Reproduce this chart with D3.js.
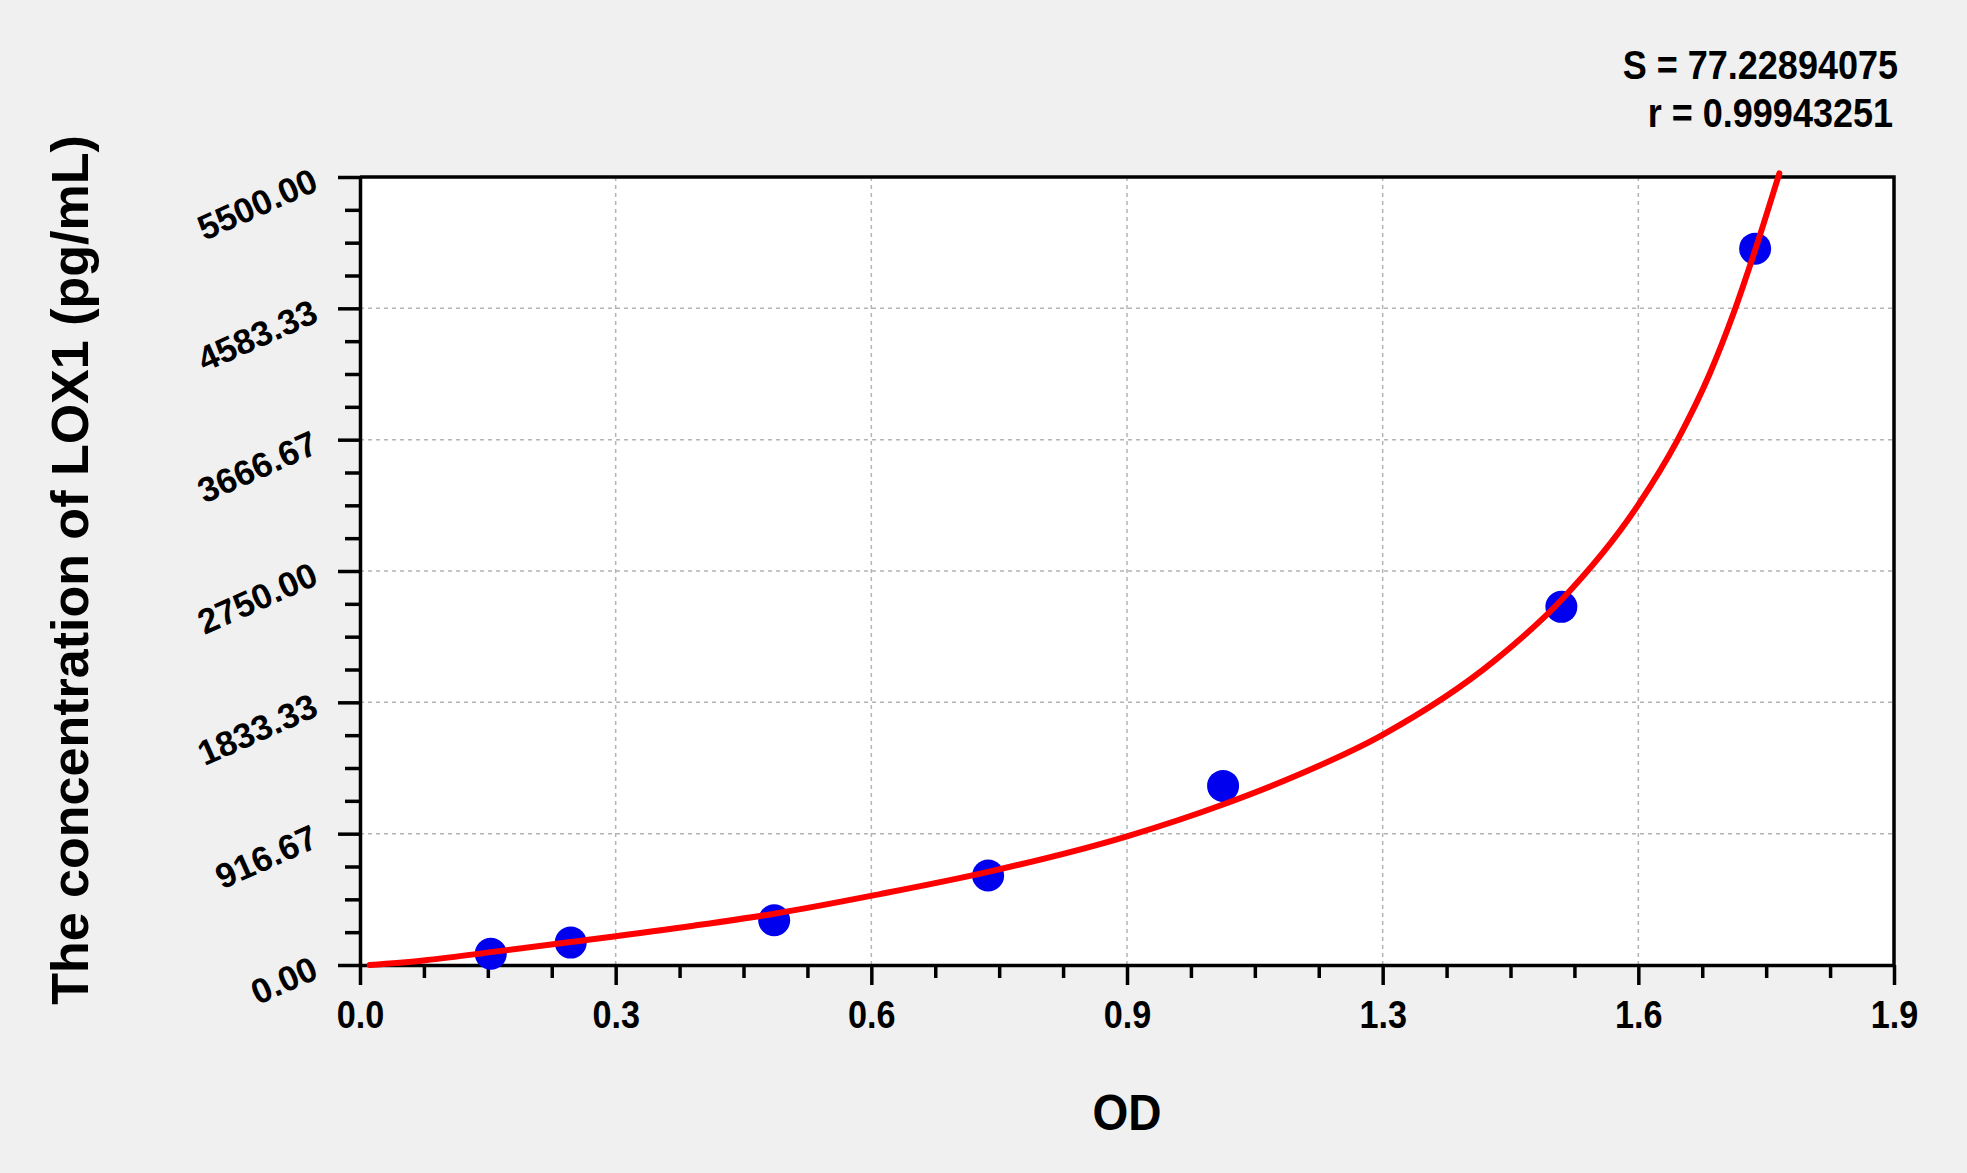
<!DOCTYPE html>
<html>
<head>
<meta charset="utf-8">
<script src="https://cdn.jsdelivr.net/npm/d3@7"></script>
<style>
  body { margin: 0; background: #f0f0f0; }
  svg { display: block; }
</style>
</head>
<body>
<svg id="chart"></svg>
<script>
// standards: OD vs concentration
const odValues = [0.162, 0.261, 0.513, 0.778, 1.069, 1.488, 1.728];
const concValues = [78.13, 156.25, 312.5, 625, 1250, 2500, 5000];

// fitted curve
const curveOd = [0.012, 0.076, 0.162, 0.261, 0.413, 0.513, 0.644, 0.778, 0.95,
  1.069, 1.16, 1.266, 1.406, 1.488, 1.583, 1.631, 1.672, 1.701, 1.728, 1.758];
const curveConc = [0, 30, 90, 161, 274, 358, 495, 650, 898,
  1120, 1322, 1605, 2128, 2548, 3210, 3655, 4130, 4545, 4990, 5526];

const xTickLabels = ['0.0', '0.3', '0.6', '0.9', '1.3', '1.6', '1.9'];
const yTickLabels = ['0.00', '916.67', '1833.33', '2750.00', '3666.67', '4583.33', '5500.00'];
const statLines = ['S = 77.22894075', 'r = 0.99943251'];

const xTitle = 'OD';
const yTitle = 'The concentration of LOX1 (pg/mL)';

const svgWidth = 1967;
const svgHeight = 1173;
const font = '"Liberation Sans", Arial, sans-serif';

const svg = d3.select('#chart')
  .attr('width', svgWidth)
  .attr('height', svgHeight)
  .style('background', '#f0f0f0');

const plot = { left: 360, right: 1894, top: 177, bottom: 965 };

const xMax = 1.9;
const yMax = 5500;

const x = d3.scaleLinear().domain([0, xMax]).range([plot.left, plot.right]);
const y = d3.scaleLinear().domain([0, yMax]).range([plot.bottom, plot.top]);

const xMajor = d3.range(7).map(i => (i * xMax) / 6);
const xMinor = d3.range(25).filter(i => i % 4 !== 0).map(i => (i * xMax) / 24);
const yMajor = d3.range(7).map(i => (i * yMax) / 6);
const yMinor = d3.range(25).filter(i => i % 4 !== 0).map(i => (i * yMax) / 24);

// squeeze horizontal text a little, the source is narrow
function squeeze(sel, k) {
  sel.each(function () {
    const len = this.getComputedTextLength();
    d3.select(this).attr('textLength', len * k).attr('lengthAdjust', 'spacingAndGlyphs');
  });
}

// plot background
svg.append('rect')
  .attr('x', plot.left)
  .attr('y', plot.top)
  .attr('width', plot.right - plot.left)
  .attr('height', plot.bottom - plot.top)
  .attr('fill', '#fff');

// grid
const grid = svg.append('g')
  .attr('stroke', '#b4b4b4')
  .attr('stroke-width', 1.5)
  .attr('stroke-dasharray', '4,4');

grid.selectAll('.vgrid')
  .data(xMajor.slice(1, -1))
  .enter()
  .append('line')
  .attr('x1', d => x(d))
  .attr('x2', d => x(d))
  .attr('y1', plot.top)
  .attr('y2', plot.bottom);

grid.selectAll('.hgrid')
  .data(yMajor.slice(1, -1))
  .enter()
  .append('line')
  .attr('x1', plot.left)
  .attr('x2', plot.right)
  .attr('y1', d => y(d))
  .attr('y2', d => y(d));

// frame top and right
svg.append('path')
  .attr('d', `M${plot.left},${plot.top}H${plot.right}V${plot.bottom}`)
  .attr('fill', 'none')
  .attr('stroke', '#000')
  .attr('stroke-width', 3.5);

// x-axis
svg.append('g')
  .attr('transform', `translate(0,${plot.bottom})`)
  .call(d3.axisBottom(x).tickValues(xMinor).tickSize(13).tickSizeOuter(0).tickFormat(''))
  .call(g => g.select('.domain').remove());

const xAxis = svg.append('g')
  .attr('transform', `translate(0,${plot.bottom})`)
  .call(d3.axisBottom(x)
    .tickValues(xMajor)
    .tickSize(20)
    .tickSizeOuter(0)
    .tickPadding(16)
    .tickFormat((d, i) => xTickLabels[i]));

xAxis.selectAll('text')
  .attr('font-family', font)
  .attr('font-weight', 'bold')
  .attr('font-size', 38)
  .attr('fill', '#000')
  .call(squeeze, 0.9);

// y-axis
svg.append('g')
  .attr('transform', `translate(${plot.left},0)`)
  .call(d3.axisLeft(y).tickValues(yMinor).tickSize(15).tickSizeOuter(0).tickFormat(''))
  .call(g => g.select('.domain').remove());

const yAxis = svg.append('g')
  .attr('transform', `translate(${plot.left},0)`)
  .call(d3.axisLeft(y)
    .tickValues(yMajor)
    .tickSize(22)
    .tickSizeOuter(0)
    .tickFormat((d, i) => yTickLabels[i]));

yAxis.selectAll('text')
  .attr('x', null)
  .attr('dy', null)
  .attr('text-anchor', 'end')
  .attr('transform', 'translate(-40,12) rotate(-24)')
  .attr('font-family', font)
  .attr('font-weight', 'bold')
  .attr('font-size', 35)
  .attr('fill', '#000');

svg.selectAll('.tick line, .domain')
  .attr('stroke', '#000')
  .attr('stroke-width', 3.5);

// standards
svg.append('g')
  .selectAll('circle')
  .data(odValues.map((d, i) => ({ od: d, conc: concValues[i] })))
  .enter()
  .append('circle')
  .attr('cx', d => x(d.od))
  .attr('cy', d => y(d.conc))
  .attr('r', 16)
  .attr('fill', '#0000ee');

// fitted curve
const line = d3.line()
  .x(d => x(d[0]))
  .y(d => y(d[1]))
  .curve(d3.curveMonotoneX);

svg.append('path')
  .datum(curveOd.map((d, i) => [d, curveConc[i]]))
  .attr('d', line)
  .attr('fill', 'none')
  .attr('stroke', '#ff0000')
  .attr('stroke-width', 6)
  .attr('stroke-linecap', 'round');

// S and r
svg.append('g')
  .selectAll('text')
  .data(statLines)
  .enter()
  .append('text')
  .attr('x', (d, i) => (i === 0 ? 1898 : 1893))
  .attr('y', (d, i) => 79 + i * 48)
  .attr('text-anchor', 'end')
  .attr('font-family', font)
  .attr('font-weight', 'bold')
  .attr('font-size', 40)
  .text(d => d)
  .call(squeeze, 0.9);

// axis titles
svg.append('text')
  .attr('x', (plot.left + plot.right) / 2)
  .attr('y', 1130)
  .attr('text-anchor', 'middle')
  .attr('font-family', font)
  .attr('font-weight', 'bold')
  .attr('font-size', 50)
  .text(xTitle)
  .call(squeeze, 0.92);

svg.append('text')
  .attr('transform', 'translate(88,570) rotate(-90)')
  .attr('text-anchor', 'middle')
  .attr('font-family', font)
  .attr('font-weight', 'bold')
  .attr('font-size', 52)
  .text(yTitle);
</script>
</body>
</html>
